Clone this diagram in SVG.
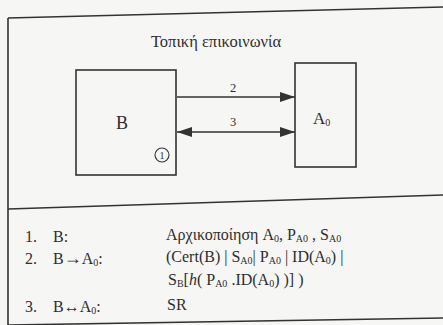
<svg xmlns="http://www.w3.org/2000/svg" width="443" height="325" viewBox="0 0 443 325">
<style>
.ln{stroke:#333;stroke-width:1.6;fill:none}
.bx{stroke:#333;stroke-width:1.6;fill:#f6f6f4}
.t{font-family:"Liberation Serif","Times New Roman",serif;fill:#2e2e2e}
.sub{font-size:10px}
.arr{stroke:#333;stroke-width:1.6;fill:none}
</style>
<defs>
<marker id="ah" viewBox="0 0 15 10" refX="15" refY="5" markerWidth="15" markerHeight="10" markerUnits="userSpaceOnUse" orient="auto-start-reverse">
<path d="M0,0 L15,5 L0,10 z" fill="#333"/>
</marker>
</defs>
<rect x="0" y="0" width="443" height="325" fill="#f6f6f4"/>
<g id="frame">
<line class="ln" x1="8" y1="18" x2="443" y2="7"/>
<line class="ln" x1="8" y1="18" x2="8" y2="325"/>
<line class="ln" x1="8" y1="209" x2="443" y2="195"/>
<line class="ln" x1="8" y1="325" x2="443" y2="318"/>
</g>
<text class="t" x="216" y="47" font-size="16.5" text-anchor="middle">Τοπική επικοινωνία</text>
<g id="B">
<rect class="bx" x="76" y="70" width="100" height="105"/>
<text class="t" x="122" y="129" font-size="18" text-anchor="middle">B</text>
<circle cx="162" cy="155" r="7" fill="none" stroke="#333" stroke-width="1.1"/>
<text class="t" x="162" y="159" font-size="10" text-anchor="middle">1</text>
</g>
<g id="A0">
<rect class="bx" x="295" y="63" width="61" height="104"/>
<text class="t" x="313" y="124" font-size="17">A<tspan class="sub" font-size="11" dy="2">0</tspan></text>
</g>
<g id="connectors">
<line class="arr" x1="177" y1="97" x2="295" y2="97" marker-end="url(#ah)"/>
<text class="t" x="233" y="92" font-size="12.5" text-anchor="middle">2</text>
<line class="arr" x1="177" y1="132" x2="295" y2="132" marker-start="url(#ah)" marker-end="url(#ah)"/>
<text class="t" x="233" y="126" font-size="12.5" text-anchor="middle">3</text>
</g>
<g id="legend" class="t" font-size="16">
<text class="t" x="25" y="242">1.</text>
<text class="t" x="53" y="242">B:</text>
<text class="t" x="166" y="240">Αρχικοποίηση A<tspan class="sub" dy="2">0</tspan><tspan dy="-2">, P</tspan><tspan class="sub" dy="2">A0</tspan><tspan dy="-2"> , S</tspan><tspan class="sub" dy="2">A0</tspan></text>
<text class="t" x="25" y="264">2.</text>
<text class="t" x="53" y="264">B<tspan font-size="18">→</tspan>A<tspan class="sub" dy="2">0</tspan><tspan dy="-2">:</tspan></text>
<text class="t" x="166" y="262">(Cert(B) | S<tspan class="sub" dy="2">A0</tspan><tspan dy="-2">| P</tspan><tspan class="sub" dy="2">A0</tspan><tspan dy="-2"> | ID(A</tspan><tspan class="sub" dy="2">0</tspan><tspan dy="-2">) |</tspan></text>
<text class="t" x="168" y="285">S<tspan class="sub" dy="2">B</tspan><tspan dy="-2">[</tspan><tspan font-style="italic">h</tspan>( P<tspan class="sub" dy="2">A0</tspan><tspan dy="-2"> .ID(A</tspan><tspan class="sub" dy="2">0</tspan><tspan dy="-2">) )] )</tspan></text>
<text class="t" x="25" y="312">3.</text>
<text class="t" x="53" y="312">B↔A<tspan class="sub" dy="2">0</tspan><tspan dy="-2">:</tspan></text>
<text class="t" x="167" y="310">SR</text>
</g>
</svg>
